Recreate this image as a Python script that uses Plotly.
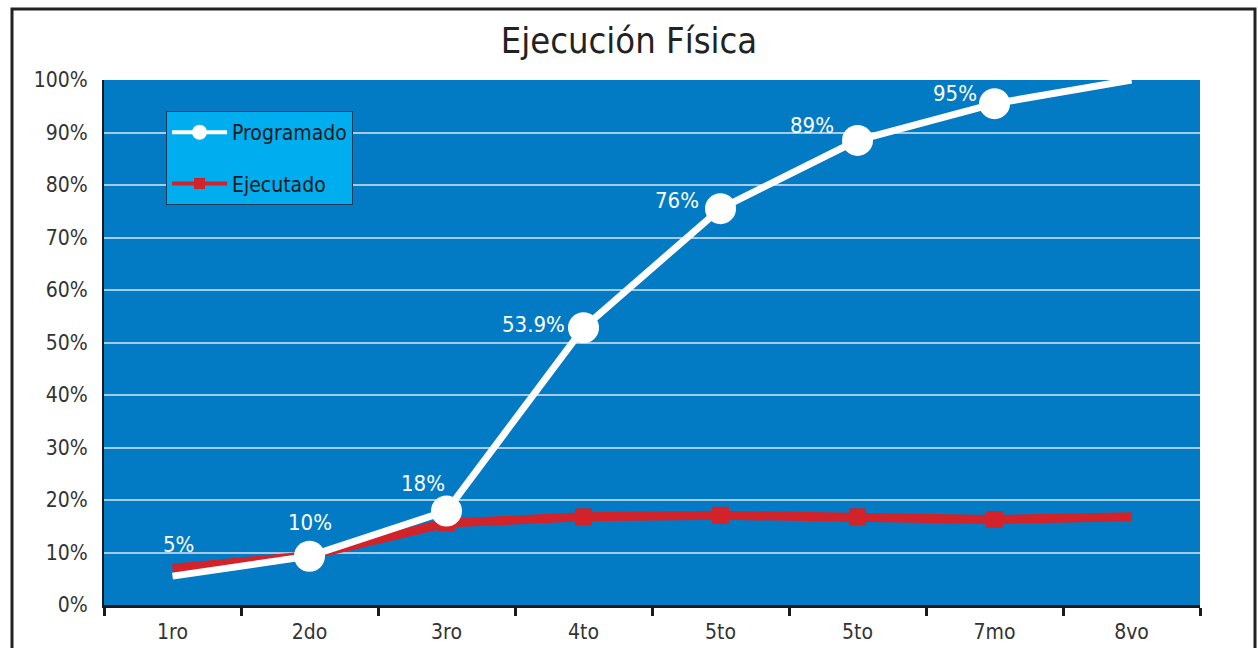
import plotly.graph_objects as go

categories = ["1ro", "2do", "3ro", "4to", "5to", "5to", "7mo", "8vo"]
programado = [5.5, 9.3, 17.9, 52.8, 75.5, 88.5, 95.5, 100]
programado_labels = ["5%", "10%", "18%", "53.9%", "76%", "89%", "95%", ""]
ejecutado = [7.0, 9.4, 15.6, 16.8, 17.1, 16.8, 16.3, 16.8]

FONT = "DejaVu Sans Condensed, Liberation Sans Narrow, Arial Narrow, sans-serif"
RED = "#D2232A"
x = list(range(len(categories)))

fig = go.Figure()
fig.add_trace(go.Scatter(
    x=x, y=ejecutado, name="Ejecutado", mode="lines+markers", showlegend=False,
    line=dict(color=RED, width=9),
    marker=dict(symbol="square", size=[0.01, 0.01, 17, 17, 17, 17, 17, 0.01], color=RED,
                opacity=1, line=dict(width=0)),
))
fig.add_trace(go.Scatter(
    x=x, y=programado, name="Programado", mode="lines+markers", showlegend=False,
    line=dict(color="white", width=7),
    marker=dict(symbol="circle", size=[0.01, 31, 31, 31, 31, 31, 31, 0.01], color="white",
                opacity=1, line=dict(width=0)),
))
# legend entries (thinner symbols as in the original legend)
fig.add_trace(go.Scatter(
    x=[None], y=[None], name="Programado", mode="lines+markers",
    line=dict(color="white", width=4), marker=dict(symbol="circle", size=15, color="white"),
    legendrank=1, legendgroup="p",
))
fig.add_trace(go.Scatter(
    x=[None], y=[None], name="Ejecutado", mode="lines+markers",
    line=dict(color=RED, width=4), marker=dict(symbol="square", size=11, color=RED),
    legendrank=2, legendgroup="e",
))

# label offsets (pixels) relative to each point
shifts = [(6, 32), (0, 34), (-24, 28), (-50, 3), (-44, 8), (-46, 15), (-40, 10), (0, 0)]
for xi, yi, t, (dx, dy) in zip(x, programado, programado_labels, shifts):
    if t:
        fig.add_annotation(x=xi, y=yi, text=t, showarrow=False, xshift=dx, yshift=dy,
                           font=dict(family=FONT, size=22, color="white"))

fig.update_layout(
    width=1258, height=648,
    margin=dict(l=104, r=58, t=80, b=43),
    paper_bgcolor="white", plot_bgcolor="#027BC4",
    title=dict(text="Ejecución Física", x=0.5, xanchor="center", y=0.938, yanchor="middle",
               font=dict(family=FONT, size=36, color="#222222")),
    showlegend=True,
    legend=dict(x=0.0566, y=0.941, xanchor="left", yanchor="top",
                bgcolor="#00ADEE", bordercolor="#1B3A57", borderwidth=1,
                font=dict(family=FONT, size=21, color="#1a1a1a"),
                tracegroupgap=21, traceorder="grouped",
                entrywidth=185, itemwidth=55),
    xaxis=dict(range=[-0.5, 7.5], tickmode="array", tickvals=x, ticktext=categories,
               showgrid=False, zeroline=False, showline=True, linecolor="#1a1a1a", linewidth=3,
               ticks="", ticklabelstandoff=6, automargin=False,
               tickfont=dict(family=FONT, size=21, color="#333333"),
               minor=dict(tick0=-0.5, dtick=1, ticks="outside", ticklen=8, tickwidth=3,
                          tickcolor="#1a1a1a", showgrid=False)),
    yaxis=dict(range=[0, 100], dtick=10, ticksuffix="%", showgrid=True,
               gridcolor="#A4CBE8", gridwidth=2, zeroline=False,
               showline=True, linecolor="#1a1a1a", linewidth=2, ticks="",
               ticklabelstandoff=10, automargin=False,
               tickfont=dict(family=FONT, size=21, color="#333333")),
)

# outer frame
fig.add_shape(type="rect", xref="paper", yref="paper",
              x0=(12 - 104) / 1096, x1=(1255 - 104) / 1096,
              y0=-0.3, y1=(605 - 9) / 525,
              line=dict(color="#222222", width=3), fillcolor="rgba(0,0,0,0)", layer="below")

fig.write_html("out.html")
